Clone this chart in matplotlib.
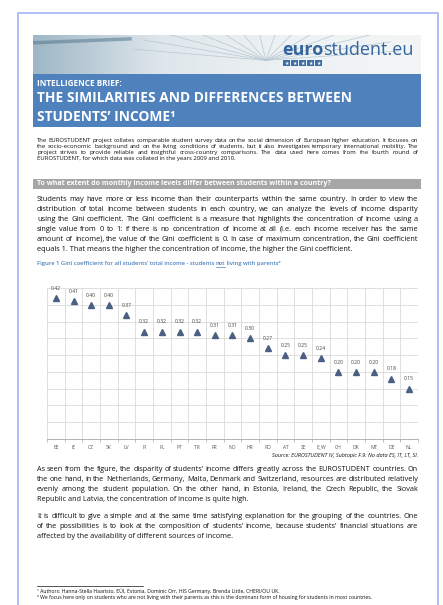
import numpy as np
import matplotlib
matplotlib.use("Agg")
import matplotlib.pyplot as plt
from matplotlib.patches import Rectangle
from matplotlib.lines import Line2D

# data
countries = ["EE", "IE", "CZ", "SK", "LV", "FI", "PL", "PT", "TR", "FR", "NO",
             "HR", "RO", "AT", "SE", "E_W", "CH", "DK", "MT", "DE", "NL"]
gini = [0.42, 0.41, 0.40, 0.40, 0.37, 0.32, 0.32, 0.32, 0.32, 0.31, 0.31,
        0.30, 0.27, 0.25, 0.25, 0.24, 0.20, 0.20, 0.20, 0.18, 0.15]

intro_lines = [
    "The EUROSTUDENT project collates comparable student survey data on the social dimension of European higher education. It focuses on",
    "the socio-economic background and on the living conditions of students, but it also investigates temporary international mobility. The",
    "project strives to provide reliable and insightful cross-country comparisons. The data used here comes from the fourth round of",
    "EUROSTUDENT, for which data was collated in the years 2009 and 2010.",
]
para1 = [
    "Students may have more or less income than their counterparts within the same country. In order to view the",
    "distribution of total income between students in each country, we can analyze the levels of income disparity",
    "using the Gini coefficient. The Gini coefficient is a measure that highlights the concentration of income using a",
    "single value from 0 to 1: if there is no concentration of income at all (i.e. each income receiver has the same",
    "amount of income), the value of the Gini coefficient is 0. In case of maximum concentration, the Gini coefficient",
    "equals 1. That means the higher the concentration of income, the higher the Gini coefficient.",
]
para2 = [
    "As seen from the figure, the disparity of students\u2019 income differs greatly across the EUROSTUDENT countries. On",
    "the one hand, in the Netherlands, Germany, Malta, Denmark and Switzerland, resources are distributed relatively",
    "evenly among the student population. On the other hand, in Estonia, Ireland, the Czech Republic, the Slovak",
    "Republic and Latvia, the concentration of income is quite high.",
]
para3 = [
    "It is difficult to give a simple and at the same time satisfying explanation for the grouping of the countries. One",
    "of the possibilities is to look at the composition of students\u2019 income, because students\u2019 financial situations are",
    "affected by the availability of different sources of income.",
]
footnotes = [
    "\u00b9 Authors: Hanna-Stella Haaristo, E\u00dcI, Estonia, Dominic Orr, HIS Germany, Brenda Little, CHERI/OU UK.",
    "\u00b2 We focus here only on students who are not living with their parents as this is the dominant form of housing for students in most countries.",
]

W, H = 443, 605
plt.rcParams['font.family'] = ['Open Sans', 'DejaVu Sans']
fig = plt.figure(figsize=(W / 100, H / 100), dpi=100)
fig.patch.set_facecolor("white")
r = fig.canvas.get_renderer()
ink = "#111111"


def fx(x):
    return x / W


def fy(y):
    return 1 - y / H


def base(y, size):
    # baseline position for a line whose middle is at pixel row y
    return fy(y + 0.36 * size * 100 / 72)


def rect(x0, y0, x1, y1, color, **kw):
    fig.patches.append(Rectangle((fx(x0), fy(y1)), fx(x1) - fx(x0), fy(y0) - fy(y1),
                                 transform=fig.transFigure, color=color, lw=0, **kw))


def text_width(s, size, **kw):
    t = fig.text(0, 0, s, fontsize=size, **kw)
    w = t.get_window_extent(r).width
    t.remove()
    return w


def put_line(line, x0, x1, y, size, justify=True, **kw):
    if not justify:
        fig.text(fx(x0), base(y, size), line, fontsize=size, va="baseline", ha="left", **kw)
        return
    words = line.split(" ")
    ts = [fig.text(0, base(y, size), w, fontsize=size, va="baseline", ha="left", **kw) for w in words]
    widths = [t.get_window_extent(r).width for t in ts]
    gap = (x1 - x0 - sum(widths)) / (len(words) - 1)
    x = x0
    for t, w in zip(ts, widths):
        t.set_x(fx(x))
        x += w + gap


def paragraph(lines, y0, step, x0=37, x1=418, fill=1.0, **kw):
    # font size so that the longest justified line fits with normal spacing
    ref = 20.0
    size = min(ref * (x1 - x0) / text_width(l, ref, **kw) for l in lines[:-1]) * fill
    for i, line in enumerate(lines):
        put_line(line, x0, x1, y0 + i * step, size, justify=(i < len(lines) - 1), **kw)


# page frame
frame_c = "#a9b9f5"
fig.lines.append(Line2D([fx(17.5), fx(17.5), fx(438), fx(438)], [fy(H + 5), fy(12.5), fy(12.5), fy(H + 5)],
                        transform=fig.transFigure, color=frame_c, lw=1.3))

# banner
bax = fig.add_axes([fx(33), fy(74), fx(421) - fx(33), fy(35) - fy(74)])
grad = np.linspace(0, 1, 200)[None, :] * np.ones((20, 1))
bax.imshow(grad, cmap=matplotlib.colors.LinearSegmentedColormap.from_list(
    "b", ["#9fb7c6", "#dfe7ec", "#eef2f4", "#f3f5f6"]), aspect="auto", extent=[0, 1, 0, 1])
for a in np.linspace(0.2, 2.9, 14):
    bax.plot([0.6, 0.6 + 0.35 * np.cos(a)], [0.35, 0.35 + 1.2 * np.sin(a)], color="#b7c7d2", lw=0.5)
bax.plot([0.0, 0.25], [0.8, 0.9], color="#5d7f95", lw=2.5, alpha=0.6)
bax.set_xlim(0, 1)
bax.set_ylim(0, 1)
bax.axis("off")
t1 = fig.text(fx(282), fy(50), "euro", fontsize=13, fontweight="bold", color="#34659b", va="center")
w1 = t1.get_window_extent(r).width
fig.text(fx(282 + w1), fy(50), "student.eu", fontsize=13, color="#34659b", va="center")
for k in range(5):
    rect(283 + k * 8, 60, 290 + k * 8, 66, "#3d6fa6")
    fig.text(fx(286.5 + k * 8), fy(63.2), "\u2605", fontsize=3.5, color="white", ha="center", va="center",
             family="DejaVu Sans")

# title box
rect(33, 74, 421, 127, "#4f81bd")
fig.text(fx(37), fy(83), "INTELLIGENCE BRIEF:", fontsize=5.9, fontweight="bold", color="white", va="center")
fig.text(fx(37), fy(98), "THE SIMILARITIES AND DIFFERENCES BETWEEN", fontsize=9.9, fontweight="bold",
         color="white", va="center")
fig.text(fx(37), fy(117), "STUDENTS\u2019 INCOME\u00b9", fontsize=9.9, fontweight="bold", color="white", va="center")

# intro
paragraph(intro_lines, 139.5, 6, color=ink)

# gray heading
rect(33, 179, 421, 189, "#a6a6a6")
fig.text(fx(37), fy(184), "To what extent do monthly income levels differ between students within a country?",
         fontsize=5.05, fontweight="bold", color="white", va="center")

# body paragraph 1
paragraph(para1, 198, 10, color=ink)

# caption
cap_c = "#4f81bd"
parts = ["Figure 1 Gini coefficient for all students\u2019 total income - students ", "not", " living with parents\u00b2"]
x = 37
for i, p in enumerate(parts):
    t = fig.text(fx(x), base(263, 4.2), p, fontsize=4.2, color=cap_c, va="baseline", fontweight="semibold")
    w = t.get_window_extent(r).width
    if i == 1:
        fig.lines.append(Line2D([fx(x), fx(x + w)], [fy(266.8), fy(266.8)], transform=fig.transFigure,
                                color=cap_c, lw=0.5))
    x += w

# chart
ax = fig.add_axes([fx(47), fy(439), fx(418) - fx(47), fy(288) - fy(439)])
xs = np.arange(len(countries))
ax.plot(xs, gini, linestyle="none", marker="^", markersize=4.6, color="#4a5f82", zorder=3)
for xi, v in zip(xs, gini):
    ax.annotate(f"{v:.2f}", (xi, v), xytext=(0, 7), textcoords="offset points", ha="center", va="center",
                fontsize=3.6, color="#404040")
ax.set_xlim(-0.5, len(countries) - 0.5)
ax.set_ylim(0, 0.45)
ax.set_yticks(np.arange(0.05, 0.451, 0.05))
ax.set_xticks(np.arange(-0.5, len(countries), 1.0))
ax.set_xticks(xs, minor=True)
ax.set_xticklabels([])
ax.set_xticklabels(countries, minor=True)
ax.grid(True, which="major", color="#d9d9d9", lw=0.6)
ax.tick_params(axis="y", left=False, labelleft=False)
ax.tick_params(axis="x", which="major", length=2.5, width=0.5, color="#a6a6a6", direction="out")
ax.tick_params(axis="x", which="minor", length=0, labelsize=3.6, labelcolor="#595959", pad=4)
for s in ["top", "right", "left"]:
    ax.spines[s].set_visible(False)
ax.spines["bottom"].set_color("#a6a6a6")
ax.spines["bottom"].set_linewidth(0.6)
ax.set_axisbelow(True)

fig.text(fx(418), fy(456), "Source: EUROSTUDENT IV, Subtopic F.9. No data ES, IT, LT, SI.", fontsize=4.0,
         style="italic", color=ink, ha="right", va="center")

# text below the chart
paragraph(para2, 468, 10.2, color=ink)
paragraph(para3, 515, 10.2, color=ink)

# footnotes
fig.lines.append(Line2D([fx(37), fx(143)], [fy(586), fy(586)], transform=fig.transFigure, color=ink, lw=0.5))
fig.text(fx(37), fy(591), footnotes[0], fontsize=3.7, color=ink, va="center")
fig.text(fx(37), fy(598), footnotes[1], fontsize=3.7, color=ink, va="center")

fig.savefig("out.png", dpi=100, facecolor="white")
